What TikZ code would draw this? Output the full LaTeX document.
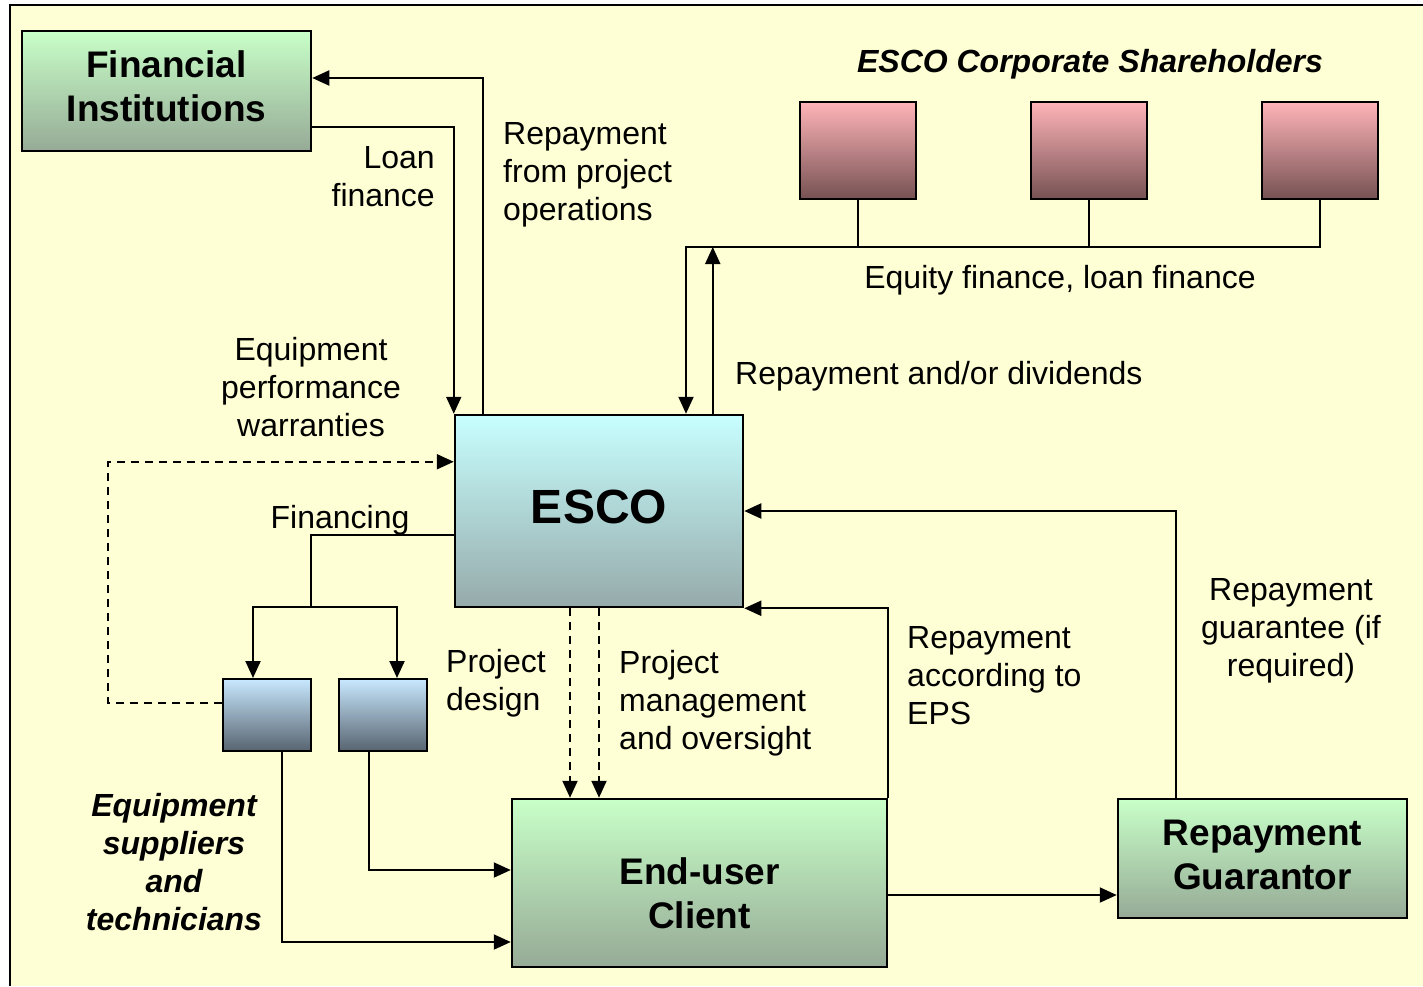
\documentclass[tikz,border=0pt]{standalone}
\usepackage{fontspec}
\setmainfont{Liberation Sans}
\usepackage{tikz}
\usetikzlibrary{shapes,arrows.meta,positioning}
\definecolor{paper}{RGB}{255,255,213}
\definecolor{greentop}{RGB}{200,255,200}
\definecolor{greenbot}{RGB}{150,170,150}
\definecolor{cyantop}{RGB}{200,255,255}
\definecolor{cyanbot}{RGB}{150,170,170}
\definecolor{pinktop}{RGB}{255,180,185}
\definecolor{pinkbot}{RGB}{118,82,82}
\definecolor{bluetop}{RGB}{200,232,255}
\definecolor{bluebot}{RGB}{88,100,112}
\tikzstyle{box} = [draw, rectangle, line width=2.5pt, inner sep=0pt]
\tikzstyle{greenbox} = [box, top color=greentop, bottom color=greenbot]
\tikzstyle{escobox} = [box, top color=cyantop, bottom color=cyanbot,
    minimum width=288pt, minimum height=192pt]
\tikzstyle{pinkbox} = [box, line width=2pt, top color=pinktop, bottom color=pinkbot,
    minimum width=116pt, minimum height=97pt]
\tikzstyle{bluebox} = [box, line width=2pt, top color=bluetop, bottom color=bluebot,
    minimum width=88pt, minimum height=72pt]
\tikzstyle{boxtext} = [inner sep=0pt, align=center, font=\fontsize{37}{44}\selectfont\bfseries]
\tikzstyle{lbl} = [inner sep=0pt, font=\fontsize{32}{38}\selectfont]
\tikzstyle{title} = [lbl, font=\fontsize{32}{38}\selectfont\bfseries\itshape]
\tikzstyle{flow} = [line width=2pt, -{Triangle[length=17pt,width=15pt]}]
\tikzstyle{wire} = [line width=2pt]
\tikzstyle{hint} = [flow, dash pattern=on 8pt off 6pt]

\begin{document}
\begin{tikzpicture}[x=1pt, y=1pt]
  \useasboundingbox (0,0) rectangle (1423,-986);
  \fill[white] (0,0) rectangle (1423,-986);
  \fill[paper] (10,-5) rectangle (1423,-986);
  \draw[wire] (10,-986) -- (10,-5) -- (1423,-5);

  % boxes
  \node [greenbox, minimum width=289pt, minimum height=120pt] (fi) at (166.5,-91) {};
  \node [escobox] (esco) at (599,-511) {};
  \node [greenbox, minimum width=375pt, minimum height=168pt] (eu) at (699.5,-883) {};
  \node [greenbox, minimum width=289pt, minimum height=119pt] (guar) at (1262.5,-858.5) {};
  \node [pinkbox] (sh1) at (858,-150.5) {};
  \node [pinkbox, right of=sh1, node distance=231pt] (sh2) {};
  \node [pinkbox, right of=sh2, node distance=231pt] (sh3) {};
  \node [bluebox] (eq1) at (267,-715) {};
  \node [bluebox, right of=eq1, node distance=116pt] (eq2) {};
  \coordinate (bus) at (686,-247);
  \coordinate (split) at (311,-607);

  % box texts
  \node [boxtext] (fitext) at ([yshift=5pt]fi.center) {Financial\\Institutions};
  \node [boxtext, font=\fontsize{48}{56}\selectfont\bfseries] (escotext)
  at ([yshift=4pt]esco.center) {ESCO};
  \node [boxtext] (eutext) at ([yshift=-10pt]eu.center) {End-user\\Client};
  \node [boxtext] (guartext) at ([yshift=4pt]guar.center) {Repayment\\Guarantor};

  % labels
  \node [title] (shtitle) at (1090,-64) {ESCO Corporate Shareholders};
  \node [title, align=center] (eqtitle) at (174,-862)
  {Equipment\\suppliers\\and\\technicians};
  \node [lbl, align=right, anchor=east] (loan) at (435,-177) {Loan\\finance};
  \node [lbl, align=left, anchor=west] (repop) at (503,-175)
  {Repayment\\from project\\operations};
  \node [lbl] (equity) at (1060,-280) {Equity finance, loan finance};
  \node [lbl, anchor=west] (divid) at (735,-376) {Repayment and/or dividends};
  \node [lbl, align=center] (warr) at (311,-387)
  {Equipment\\performance\\warranties};
  \node [lbl] (fin) at (340,-520) {Financing};
  \node [lbl, align=left, anchor=west] (design) at (446,-683) {Project\\design};
  \node [lbl, align=left, anchor=west] (mgmt) at (619,-703)
  {Project\\management\\and oversight};
  \node [lbl, align=left, anchor=west] (eps) at (907,-676)
  {Repayment\\according to\\EPS};
  \node [lbl, align=center] (guarlbl) at (1291,-631)
  {Repayment\\guarantee (if\\required)};

  % connectors
  \draw [flow] ([xshift=29pt]esco.north west) |- ([yshift=13pt]fi.east);
  \draw [flow] ([yshift=-36pt]fi.east) -| (esco.north west);
  \draw [wire] (sh1.south) -- (sh1.south |- bus);
  \draw [wire] (sh2.south) -- (sh2.south |- bus);
  \draw [flow] (sh3.south) |- (bus) -- (bus |- esco.north);
  \draw [flow] ([xshift=259pt]esco.north west) -- ([xshift=259pt]esco.north west |- bus);
  \draw [hint] ([yshift=12pt]eq1.west) -- ++(-114pt,0) |- ([yshift=-48pt]esco.north west);
  \draw [wire] ([yshift=-24pt]esco.west) -| (split);
  \draw [flow] (split) -| ([xshift=-14pt]eq1.north);
  \draw [flow] (split) -| ([xshift=14pt]eq2.north);
  \draw [flow] ([xshift=15pt]eq1.south) |- ([yshift=-59pt]eu.west);
  \draw [flow] ([xshift=-14pt]eq2.south) |- ([yshift=13pt]eu.west);
  \draw [hint] ([xshift=-29pt]esco.south) -- ([xshift=-29pt]esco.south |- eu.north);
  \draw [hint] (esco.south) -- (esco.south |- eu.north);
  \draw [flow] (eu.north east) |- (esco.south east);
  \draw [flow] ([yshift=-12pt]eu.east) -- ([yshift=-12pt]eu.east -| guar.west);
  \draw [flow] ([xshift=-87pt]guar.north) |- (esco.east);
\end{tikzpicture}
\end{document}
